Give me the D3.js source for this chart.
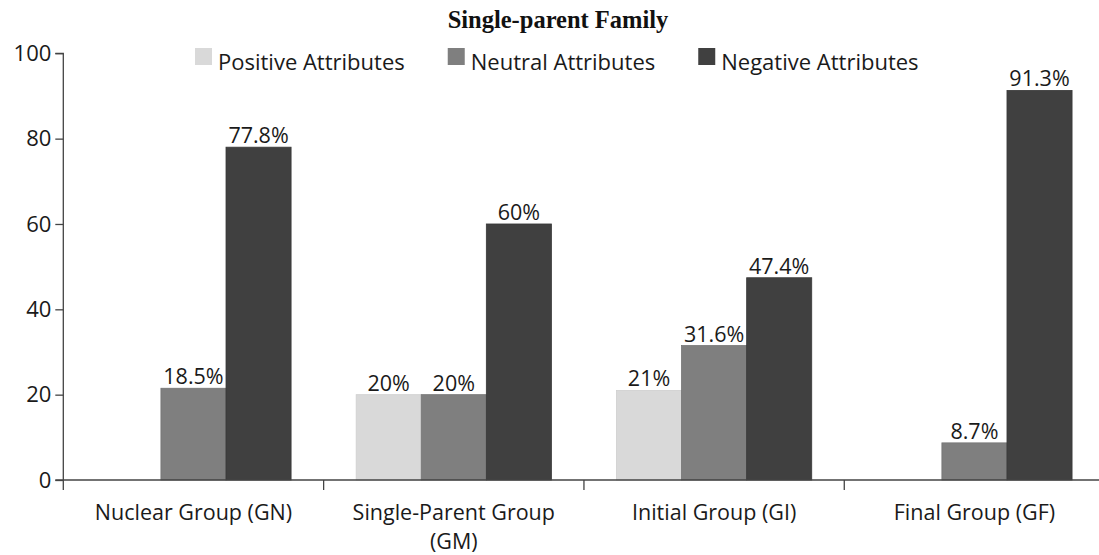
<!DOCTYPE html>
<html>
<head>
<meta charset="utf-8">
<script src="https://cdn.jsdelivr.net/npm/d3@7"></script>
<style>
  html, body { margin: 0; padding: 0; background: #fff; }
  svg { display: block; }
</style>
</head>
<body>
<svg id="chart" width="1099" height="555"></svg>
<script>
// ---- data ----
const categories = ["Nuclear Group (GN)", "Single-Parent Group (GM)", "Initial Group (GI)", "Final Group (GF)"];
const categoryLines = [["Nuclear Group (GN)"], ["Single-Parent Group", "(GM)"], ["Initial Group (GI)"], ["Final Group (GF)"]];
const seriesNames = ["Positive Attributes", "Neutral Attributes", "Negative Attributes"];
const positiveValues = [0, 20, 21, 0];
const neutralValues = [21.5, 20, 31.5, 8.7];
const negativeValues = [78, 60, 47.4, 91.3];
const positiveLabels = ["", "20%", "21%", ""];
const neutralLabels = ["18.5%", "20%", "31.6%", "8.7%"];
const negativeLabels = ["77.8%", "60%", "47.4%", "91.3%"];
const yTicks = [0, 20, 40, 60, 80, 100];
const title = "Single-parent Family";

// ---- layout / style ----
const colors = ["#d9d9d9", "#7f7f7f", "#404040"];
const strokes = ["#cfcfcf", "#747474", "#383838"];
const font = "'Open Sans', 'Noto Sans', sans-serif";

const svg = d3.select("#chart");
const plotLeft = 63.3, plotRight = 1104.6, plotTop = 53.3, plotBottom = 480;

const y = d3.scaleLinear().domain([0, 100]).range([plotBottom, plotTop]);
const x0 = d3.scaleBand().domain(categories).range([plotLeft, plotRight]).padding(0);
const x1 = d3.scaleBand().domain(seriesNames).range([0, x0.bandwidth()]).paddingInner(0).paddingOuter(0.5);

const valuesBySeries = [positiveValues, neutralValues, negativeValues];
const labelsBySeries = [positiveLabels, neutralLabels, negativeLabels];

const data = [];
categories.forEach((c, ci) => {
  seriesNames.forEach((s, si) => {
    data.push({ cat: c, series: s, si, value: valuesBySeries[si][ci], label: labelsBySeries[si][ci] });
  });
});

// bars
svg.append("g").selectAll("rect")
  .data(data.filter(d => d.value > 0))
  .join("rect")
  .attr("x", d => x0(d.cat) + x1(d.series))
  .attr("y", d => y(d.value))
  .attr("width", x1.bandwidth())
  .attr("height", d => y(0) - y(d.value))
  .attr("fill", d => colors[d.si])
  .attr("stroke", d => strokes[d.si])
  .attr("stroke-width", 0.8);

// value labels
svg.append("g").selectAll("text")
  .data(data.filter(d => d.label))
  .join("text")
  .attr("x", d => x0(d.cat) + x1(d.series) + x1.bandwidth() / 2)
  .attr("y", d => y(d.value) - 4)
  .attr("text-anchor", "middle")
  .attr("font-family", font)
  .attr("font-size", 21.5)
  .attr("fill", "#1a1a1a")
  .text(d => d.label);

// y axis
const yAxis = d3.axisLeft(y).tickValues(yTicks).tickSize(8).tickPadding(4).tickFormat(d3.format("d"));
const gy = svg.append("g").attr("transform", `translate(${plotLeft},0)`).call(yAxis);
gy.select(".domain").attr("stroke", "#444").attr("stroke-width", 1.3).attr("d", `M-8,${plotTop}H0V${plotBottom}`);
gy.selectAll(".tick line").attr("stroke", "#444").attr("stroke-width", 1.3);
gy.selectAll(".tick text").attr("font-family", font).attr("font-size", 22).attr("fill", "#1a1a1a");

// x axis
const xAxis = d3.axisBottom(x0).tickSize(0);
const gx = svg.append("g").attr("transform", `translate(0,${plotBottom})`).call(xAxis);
gx.select(".domain").attr("stroke", "#444").attr("stroke-width", 1.3).attr("d", `M${plotLeft - 8},0H1099`);
gx.selectAll(".tick text").remove();
gx.selectAll(".tick").each(function(d) {
  const lines = categoryLines[categories.indexOf(d)];
  lines.forEach((ln, k) => {
    d3.select(this).append("text")
      .attr("y", 40 + k * 29)
      .attr("text-anchor", "middle")
      .attr("font-family", font).attr("font-size", 21.5).attr("fill", "#1a1a1a")
      .text(ln);
  });
});
// category boundary ticks
svg.append("g").selectAll("line")
  .data(categories)
  .join("line")
  .attr("x1", d => x0(d)).attr("x2", d => x0(d))
  .attr("y1", plotBottom).attr("y2", plotBottom + 10)
  .attr("stroke", "#444").attr("stroke-width", 1.3);

// title
svg.append("text")
  .attr("x", 558).attr("y", 28)
  .attr("text-anchor", "middle")
  .attr("font-family", "'Liberation Serif', 'DejaVu Serif', serif")
  .attr("font-weight", "bold")
  .attr("font-size", 24.5)
  .attr("fill", "#111")
  .text(title);

// legend
const legend = svg.append("g").attr("transform", "translate(195,0)");
let lx = 0;
seriesNames.forEach((s, i) => {
  const g = legend.append("g").attr("transform", `translate(${lx},0)`);
  g.append("rect").attr("x", 0).attr("y", 48).attr("width", 17).attr("height", 17).attr("fill", colors[i]);
  const t = g.append("text").attr("x", 23).attr("y", 70)
    .attr("font-family", font).attr("font-size", 22).attr("fill", "#1a1a1a").text(s);
  lx += 23 + t.node().getComputedTextLength() + 43;
});
</script>
</body>
</html>
